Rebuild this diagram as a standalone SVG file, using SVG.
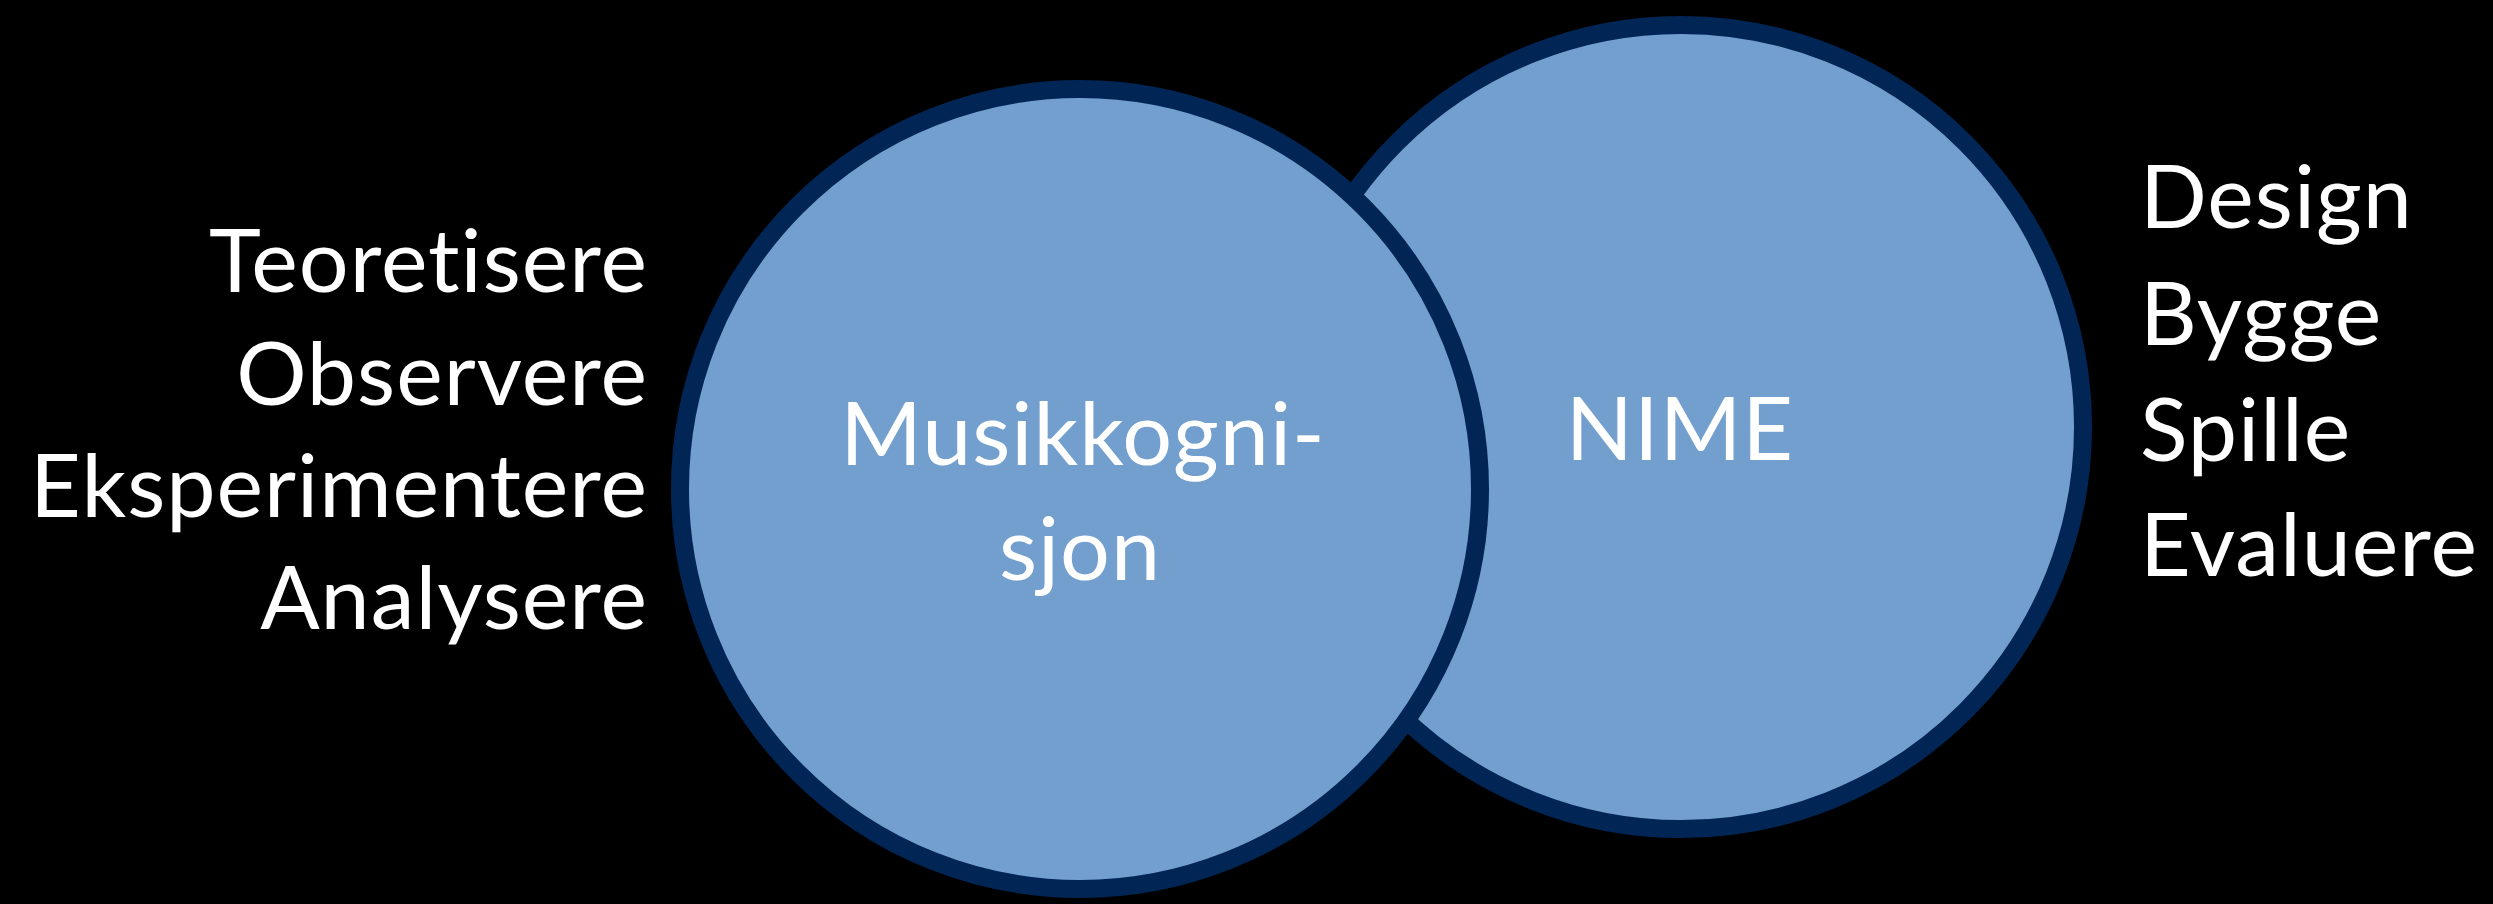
<svg xmlns="http://www.w3.org/2000/svg" width="2493" height="904" viewBox="0 0 2493 904">
<style>
.c{fill:#739FCF;stroke:#012656;stroke-width:18}
.t{font-family:Lato,"Open Sans","Liberation Sans",sans-serif;font-size:88px;letter-spacing:1px;font-variant-ligatures:none;fill:#FFFFFF}
</style>
<rect x="0" y="0" width="2493" height="904" fill="#000000"/>
<g id="connectors"></g>
<g id="nime">
<circle class="c" cx="1681" cy="427" r="402"/>
<text class="t" x="1680" y="460" text-anchor="middle">NIME</text>
</g>
<g id="musikkognisjon">
<circle class="c" cx="1080" cy="489" r="400"/>
<text class="t" x="1083" y="465" text-anchor="middle">Musikkogni-</text>
<text class="t" x="1080" y="580" text-anchor="middle">sjon</text>
</g>
<g id="left-list">
<text class="t" x="648" y="292" text-anchor="end">Teoretisere</text>
<text class="t" x="648" y="405" text-anchor="end">Observere</text>
<text class="t" x="648" y="517" text-anchor="end">Eksperimentere</text>
<text class="t" x="648" y="629" text-anchor="end">Analysere</text>
</g>
<g id="right-list">
<text class="t" x="2140" y="228" text-anchor="start">Design</text>
<text class="t" x="2140" y="345" text-anchor="start">Bygge</text>
<text class="t" x="2140" y="461" text-anchor="start">Spille</text>
<text class="t" x="2140" y="576" text-anchor="start">Evaluere</text>
</g>
</svg>
